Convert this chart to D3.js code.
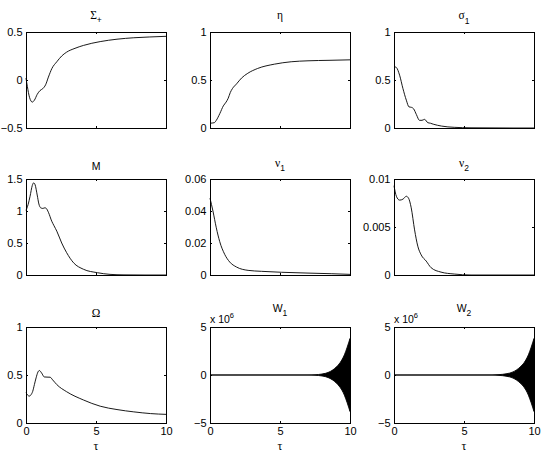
<!DOCTYPE html>
<html>
<head>
<meta charset="utf-8">
<script src="https://cdn.jsdelivr.net/npm/d3@7"></script>
<style>
  body { margin: 0; background: #fff; }
  svg { display: block; font-family: "Liberation Sans", Arial, sans-serif; }
</style>
</head>
<body>
<div id="chart"></div>
<script>
// values, [tau, value]
const tauTicks = [0, 5, 10];

const sigmaPlus = [[0, 0.02], [0.1, -0.07], [0.25, -0.18], [0.45, -0.23], [0.6, -0.21], [0.8, -0.15],
  [1.0, -0.11], [1.2, -0.09], [1.4, -0.05], [1.6, 0.03], [1.85, 0.12], [2.2, 0.19], [2.55, 0.25],
  [2.9, 0.29], [3.5, 0.33], [4.1, 0.36], [5.3, 0.40], [6.5, 0.425], [7.7, 0.44], [8.8, 0.448], [10, 0.455]];

const eta = [[0, 0.05], [0.3, 0.055], [0.45, 0.08], [0.7, 0.15], [0.95, 0.23], [1.15, 0.27], [1.3, 0.31],
  [1.45, 0.37], [1.6, 0.41], [1.9, 0.46], [2.25, 0.52], [2.7, 0.57], [3.4, 0.62], [4.6, 0.665],
  [5.8, 0.69], [7, 0.70], [8.5, 0.705], [10, 0.71]];

const sigma1 = [[0, 0.64], [0.17, 0.63], [0.4, 0.55], [0.64, 0.41], [0.88, 0.29], [1.07, 0.22],
  [1.25, 0.215], [1.4, 0.2], [1.6, 0.14], [1.82, 0.08], [2.0, 0.08], [2.18, 0.09], [2.42, 0.055],
  [2.6, 0.05], [2.8, 0.04], [3.4, 0.02], [4.3, 0.007], [5.5, 0.002], [7, 0.001], [8.5, 0], [10, 0]];

const mVals = [[0, 1.01], [0.15, 1.1], [0.29, 1.23], [0.45, 1.4], [0.55, 1.44], [0.65, 1.41], [0.8, 1.25],
  [0.92, 1.11], [1.05, 1.05], [1.2, 1.04], [1.35, 1.05], [1.45, 1.04], [1.6, 0.98], [1.84, 0.84],
  [2.0, 0.77], [2.2, 0.685], [2.55, 0.5], [2.9, 0.35], [3.4, 0.19], [4.1, 0.09], [5.1, 0.036],
  [6, 0.01], [7, 0.002], [8.5, 0], [10, 0]];

const nu1 = [[0, 0.048], [0.21, 0.040], [0.45, 0.0295], [0.69, 0.021], [1.05, 0.0129], [1.41, 0.0081],
  [1.89, 0.005], [2.72, 0.0029], [3.67, 0.0023], [5.1, 0.0017], [7.0, 0.0012], [8.7, 0.0008], [10, 0.0004]];

const nu2 = [[0, 0.0093], [0.17, 0.0082], [0.4, 0.0078], [0.64, 0.0079], [0.88, 0.0082], [1.04, 0.0080],
  [1.23, 0.0070], [1.47, 0.0047], [1.7, 0.003], [1.94, 0.0021], [2.3, 0.00145], [2.65, 0.00076],
  [3.36, 0.0003], [4.3, 0.0001], [5.5, 0], [10, 0]];

const omega = [[0, 0.316], [0.12, 0.29], [0.24, 0.28], [0.36, 0.295], [0.48, 0.33], [0.6, 0.4],
  [0.72, 0.47], [0.85, 0.53], [0.95, 0.547], [1.12, 0.52], [1.3, 0.48], [1.5, 0.478], [1.72, 0.477],
  [1.9, 0.45], [2.2, 0.40], [2.9, 0.326], [4.1, 0.24], [5.3, 0.175], [6.5, 0.14], [7.7, 0.116],
  [8.9, 0.098], [10, 0.09]];

// W1, W2 oscillate too fast to resolve: envelope of the black band, in units of 10^6
const w1Envelope = [[0, 0], [7, 0.01], [7.5, 0.03], [8, 0.1], [8.5, 0.3], [9, 0.8], [9.3, 1.3],
  [9.6, 2.1], [9.8, 2.9], [10, 3.8]];
const w2Envelope = [[0, 0], [7, 0.01], [7.5, 0.04], [8, 0.12], [8.5, 0.32], [9, 0.82], [9.3, 1.3],
  [9.6, 2.1], [9.8, 2.9], [10, 3.8]];

const panels = [
  { title: ["Σ", "+"], data: sigmaPlus, y: [-0.5, 0.5], ticks: [-0.5, 0, 0.5], tOff: 13.5 },
  { title: ["η", ""], data: eta, y: [0, 1], ticks: [0, 0.5, 1], tOff: 13.5 },
  { title: ["σ", "1"], data: sigma1, y: [0, 1], ticks: [0, 0.5, 1], tOff: 13 },
  { title: ["M", ""], data: mVals, y: [0, 1.5], ticks: [0, 0.5, 1, 1.5], tOff: 9, sans: true },
  { title: ["ν", "1"], data: nu1, y: [0, 0.06], ticks: [0, 0.02, 0.04, 0.06], tOff: 12.5 },
  { title: ["ν", "2"], data: nu2, y: [0, 0.01], ticks: [0, 0.005, 0.01], tOff: 12.5 },
  { title: ["Ω", ""], data: omega, y: [0, 1], ticks: [0, 0.5, 1], tOff: 10 },
  { title: ["W", "1"], band: w1Envelope, y: [-5, 5], ticks: [-5, 0, 5], tOff: 15.5, sans: true, exp: true },
  { title: ["W", "2"], band: w2Envelope, y: [-5, 5], ticks: [-5, 0, 5], tOff: 15.5, sans: true, exp: true }
];

const width = 545, height = 457;
const colX = [26, 210, 394], rowY = [32, 179, 327];
const pw = 140, ph = 96;

const svg = d3.select("#chart").append("svg")
  .attr("width", width).attr("height", height);

const serif = "'Liberation Serif', 'Times New Roman', serif";
const fmt = d3.format("~g");

panels.forEach((p, i) => {
  const col = i % 3, row = Math.floor(i / 3);
  const g = svg.append("g").attr("transform", `translate(${colX[col]},${rowY[row]})`);

  const x = d3.scaleLinear().domain([0, 10]).range([0, pw]);
  const y = d3.scaleLinear().domain(p.y).range([ph, 0]);

  // data
  if (p.data) {
    const line = d3.line().x(d => x(d[0])).y(d => y(d[1])).curve(d3.curveMonotoneX);
    g.append("path").datum(p.data)
      .attr("d", line)
      .attr("fill", "none")
      .attr("stroke", "#000")
      .attr("stroke-width", 0.9);
  } else {
    const area = d3.area().x(d => x(d[0])).y0(d => y(-d[1])).y1(d => y(d[1])).curve(d3.curveMonotoneX);
    g.append("path").datum(p.band)
      .attr("d", area)
      .attr("fill", "#000")
      .attr("stroke", "#000")
      .attr("stroke-width", 0.9);
  }

  // axes, ticks pointing inward on all four sides
  const bottom = row === 2;
  g.append("g").attr("transform", `translate(0,${ph})`)
    .call(d3.axisBottom(x).tickValues(tauTicks).tickSize(-2).tickSizeOuter(0).tickPadding(4)
      .tickFormat(bottom ? fmt : () => ""));
  g.append("g")
    .call(d3.axisTop(x).tickValues(tauTicks).tickSize(-2).tickSizeOuter(0).tickFormat(() => ""));
  g.append("g")
    .call(d3.axisLeft(y).tickValues(p.ticks).tickSize(-2).tickSizeOuter(0).tickPadding(3.5).tickFormat(fmt));
  g.append("g").attr("transform", `translate(${pw},0)`)
    .call(d3.axisRight(y).tickValues(p.ticks).tickSize(-2).tickSizeOuter(0).tickFormat(() => ""));

  g.selectAll(".domain").remove();
  g.selectAll(".tick line").attr("stroke", "#000").attr("shape-rendering", "crispEdges");
  g.selectAll(".tick text").attr("font-size", 11).attr("fill", "#000")
    .attr("font-family", "'Liberation Sans', Arial, sans-serif");

  g.append("rect")
    .attr("x", 0.5).attr("y", 0.5).attr("width", pw).attr("height", ph)
    .attr("fill", "none").attr("stroke", "#000").attr("stroke-width", 1);

  // title
  const t = g.append("text")
    .attr("x", pw / 2).attr("y", -p.tOff)
    .attr("text-anchor", "middle")
    .attr("font-size", p.sans ? 10.5 : 11.5);
  t.append("tspan").text(p.title[0]).attr("font-family", p.sans ? null : serif);
  if (p.title[1]) t.append("tspan").text(p.title[1]).attr("font-size", 8.5).attr("dy", 4.5);

  // exponent label
  if (p.exp) {
    const e = g.append("text").attr("x", 0).attr("y", -4).attr("font-size", 10.5);
    e.append("tspan").text("x 10");
    e.append("tspan").text("6").attr("font-size", 7.5).attr("dy", -5);
  }

  if (bottom) {
    g.append("text")
      .attr("x", pw / 2).attr("y", ph + 27)
      .attr("text-anchor", "middle")
      .attr("font-family", serif)
      .attr("font-size", 12)
      .text("τ");
  }
});
</script>
</body>
</html>
